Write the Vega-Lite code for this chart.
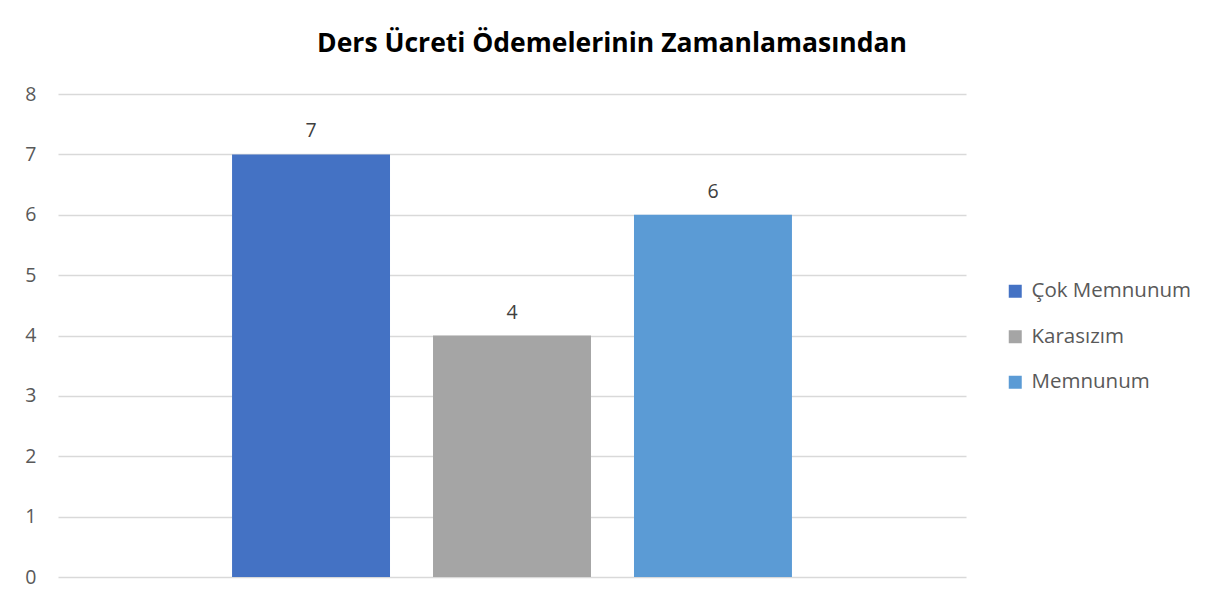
{
  "$schema": "https://vega.github.io/schema/vega-lite/v6.json",
  "width": 908,
  "height": 483,
  "autosize": "none",
  "padding": {"left": 58, "top": 94, "right": 251, "bottom": 31},
  "background": "white",
  "data": {
    "values": [
      {"kategori": "Çok Memnunum", "deger": 7},
      {"kategori": "Karasızım", "deger": 4},
      {"kategori": "Memnunum", "deger": 6}
    ]
  },
  "title": {
    "text": "Ders Ücreti Ödemelerinin Zamanlamasından",
    "font": "Open Sans",
    "fontSize": 26.5,
    "fontWeight": "bold",
    "color": "#000000",
    "anchor": "middle",
    "dx": 100,
    "baseline": "alphabetic",
    "offset": 6
  },
  "config": {
    "view": {"stroke": null},
    "font": "Open Sans"
  },
  "encoding": {
    "x": {
      "field": "kategori",
      "type": "nominal",
      "sort": null,
      "scale": {"paddingInner": 0.214, "paddingOuter": 0.866},
      "axis": null
    },
    "y": {
      "field": "deger",
      "type": "quantitative",
      "scale": {"domain": [0, 8], "nice": false},
      "axis": {
        "title": null,
        "values": [0, 1, 2, 3, 4, 5, 6, 7, 8],
        "domain": false,
        "ticks": false,
        "labelPadding": 22,
        "labelFont": "Open Sans",
        "labelFontSize": 19.5,
        "labelColor": "#595959",
        "gridColor": "#d9d9d9",
        "gridWidth": 1.3
      }
    }
  },
  "layer": [
    {
      "mark": {"type": "bar"},
      "encoding": {
        "color": {
          "field": "kategori",
          "type": "nominal",
          "sort": null,
          "scale": {"range": ["#4472C4", "#A5A5A5", "#5B9BD5"]},
          "legend": {
            "title": null,
            "orient": "none",
            "legendX": 947,
            "legendY": 187,
            "symbolType": "square",
            "symbolSize": 169,
            "symbolStrokeWidth": 0,
            "labelFont": "Open Sans",
            "labelFontSize": 20.5,
            "labelColor": "#595959",
            "labelOffset": 6,
            "rowPadding": 24.5
          }
        }
      }
    },
    {
      "mark": {"type": "text", "baseline": "alphabetic", "dy": -17, "font": "Open Sans", "fontSize": 19.5, "color": "#404040"},
      "encoding": {"text": {"field": "deger", "type": "quantitative"}}
    }
  ]
}
